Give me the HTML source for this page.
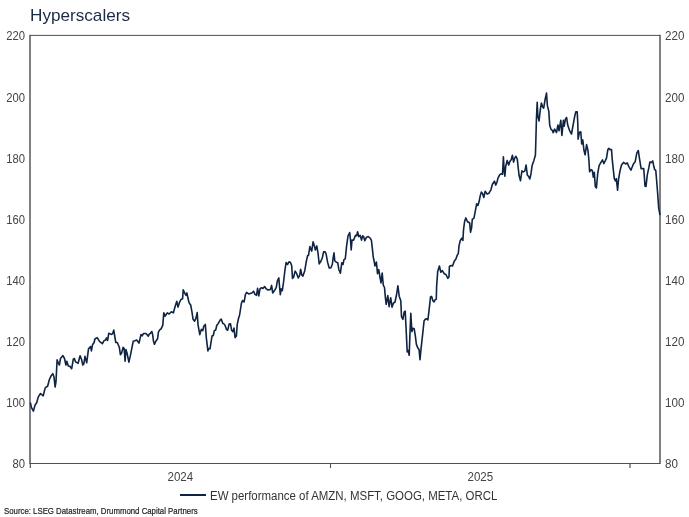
<!DOCTYPE html>
<html><head><meta charset="utf-8"><title>Hyperscalers</title>
<style>
html,body{margin:0;padding:0;background:#fff;}
body{width:689px;height:517px;position:relative;overflow:hidden;font-family:"Liberation Sans",sans-serif;}
#wrap{position:absolute;left:0;top:0;width:689px;height:517px;will-change:transform;}
.t{position:absolute;white-space:nowrap;line-height:1;}
#title{left:30px;top:6.7px;font-size:17.15px;color:#1b2a45;}
.yl{font-size:12.3px;color:#444;width:22px;text-align:right;left:3.3px;transform-origin:100% 0;transform:scaleX(0.915);}
.yr{font-size:12.3px;color:#444;left:664.7px;transform-origin:0 0;transform:scaleX(0.945);}
.xl{font-size:12px;color:#444;transform-origin:50% 0;transform:scaleX(0.96);}
#leg{left:210.4px;top:489.6px;font-size:12px;color:#333;transform-origin:0 0;transform:scaleX(0.954);}
#src{left:3.6px;top:506.7px;font-size:9px;color:#222;transform-origin:0 0;transform:scaleX(0.868);-webkit-text-stroke:0.2px #222;}
svg{position:absolute;left:0;top:0;}
</style></head><body><div id="wrap">
<div class="t" id="title">Hyperscalers</div>
<svg width="689" height="517" viewBox="0 0 689 517">
<g stroke="#505050" fill="none">
<line x1="30" y1="34.8" x2="30" y2="464.1" stroke-width="1.3" stroke="#3c3c3c"/>
<line x1="660" y1="34.8" x2="660" y2="464.1" stroke-width="1.3" stroke="#3c3c3c"/>
<line x1="30" y1="35.4" x2="660" y2="35.4" stroke-width="1"/>
<line x1="30" y1="463.5" x2="660" y2="463.5" stroke-width="1.1"/>
<line x1="30.3" y1="463" x2="30.3" y2="468" stroke-width="1.2"/>
<line x1="330.5" y1="463" x2="330.5" y2="468" stroke-width="1.1"/>
<line x1="630" y1="463" x2="630" y2="468" stroke-width="1.2"/>
</g>
<path d="M30.4,402.6 L31.4,407.3 L33.4,411.1 L35.0,405.2 L36.8,402.5 L38.2,397.1 L40.5,393.5 L43.2,395.8 L45.3,387.6 L47.6,386.3 L49.4,379.5 L51.0,376.1 L52.8,373.7 L54.0,376.8 L55.1,387.0 L56.0,381.5 L57.1,359.9 L58.1,362.6 L59.4,365.0 L60.5,358.5 L62.9,355.6 L64.5,358.5 L65.9,365.0 L66.8,361.2 L68.3,366.0 L70.0,366.4 L71.7,368.7 L73.3,359.2 L74.3,358.5 L75.6,361.9 L78.1,363.3 L80.1,355.8 L81.5,359.2 L82.8,365.0 L83.8,364.0 L85.0,356.4 L86.7,362.8 L88.5,348.9 L90.6,346.6 L91.4,350.9 L92.5,344.8 L94.1,342.5 L94.9,339.0 L97.2,337.6 L99.5,341.3 L102.4,343.7 L104.2,340.4 L105.7,340.0 L106.5,337.9 L107.6,340.4 L108.8,333.2 L111.1,334.4 L112.6,333.8 L113.8,330.0 L114.6,335.5 L115.8,342.5 L117.3,342.5 L119.3,347.2 L120.4,354.7 L121.6,353.0 L123.1,347.4 L124.1,348.3 L125.1,361.1 L125.9,349.5 L127.0,353.0 L128.9,362.2 L130.3,355.9 L133.2,341.3 L134.9,340.8 L136.7,340.0 L139.0,343.1 L141.0,334.6 L142.1,335.8 L143.6,333.5 L146.0,333.5 L148.3,336.1 L149.1,334.4 L150.6,333.2 L151.8,331.5 L152.6,334.4 L153.5,341.3 L154.4,344.3 L155.8,341.3 L157.6,338.8 L158.4,332.1 L159.9,329.7 L161.1,328.8 L162.8,325.1 L163.8,312.9 L165.2,316.1 L167.2,312.9 L169.1,314.0 L171.4,311.7 L173.4,312.9 L175.1,306.5 L176.8,301.3 L178.0,307.1 L179.5,302.4 L180.9,299.5 L182.6,298.7 L183.2,289.9 L185.0,293.7 L186.1,295.4 L186.9,292.9 L187.9,297.8 L189.0,302.6 L190.8,305.3 L191.9,311.7 L193.1,319.3 L194.6,321.2 L195.8,318.7 L197.2,312.6 L198.0,324.6 L199.8,334.6 L201.3,329.4 L202.8,330.7 L203.7,326.3 L205.3,324.4 L206.3,337.6 L207.9,350.9 L208.8,348.5 L210.0,348.8 L212.0,336.1 L213.3,335.5 L214.3,330.7 L215.7,330.0 L216.8,325.3 L218.1,323.7 L220.3,319.8 L221.3,319.2 L222.7,323.3 L224.2,324.1 L225.3,325.9 L226.5,329.6 L227.7,330.2 L229.1,324.1 L230.5,323.9 L231.6,330.2 L232.9,331.7 L234.0,328.1 L235.1,337.6 L236.4,335.9 L237.2,324.6 L238.5,318.5 L239.6,315.0 L241.4,303.4 L242.5,300.5 L244.1,302.0 L245.4,294.7 L246.6,292.4 L248.7,293.9 L251.8,293.0 L253.6,291.2 L255.0,294.4 L256.5,295.3 L257.6,288.3 L258.8,295.9 L260.0,288.9 L261.5,287.7 L262.9,288.5 L264.6,286.6 L266.3,288.9 L268.1,290.1 L270.4,289.5 L271.6,285.4 L272.7,293.0 L274.5,290.6 L276.2,287.7 L277.4,280.8 L278.8,277.9 L279.7,288.3 L280.3,294.7 L281.2,288.9 L282.3,290.6 L283.5,282.5 L284.9,270.3 L286.1,262.5 L287.5,264.5 L289.0,261.8 L290.5,262.5 L291.7,265.7 L292.5,278.4 L293.6,277.3 L295.1,271.1 L296.5,273.2 L298.3,277.9 L299.8,275.0 L300.6,269.2 L301.8,275.0 L302.9,276.1 L304.7,270.9 L306.4,261.0 L307.6,255.6 L308.5,255.4 L309.9,246.5 L311.7,251.1 L313.1,241.8 L314.5,246.5 L315.4,250.0 L316.8,245.9 L318.0,252.9 L319.2,263.9 L321.0,261.0 L322.4,257.5 L323.6,251.9 L325.0,251.7 L326.1,254.0 L327.6,262.2 L329.2,268.0 L330.8,268.0 L332.3,264.5 L333.2,257.5 L334.0,252.9 L334.8,261.0 L336.3,262.2 L337.7,262.7 L338.9,269.7 L340.4,273.2 L341.8,262.7 L343.0,264.5 L343.9,259.8 L345.3,258.7 L346.6,245.9 L348.0,236.0 L349.7,232.5 L350.5,240.1 L351.2,250.0 L352.0,240.1 L353.5,240.3 L355.5,235.4 L356.7,235.7 L357.6,231.7 L358.8,236.6 L360.2,235.4 L361.5,240.1 L362.7,235.7 L363.6,236.6 L364.8,240.7 L366.5,237.2 L368.3,236.6 L370.0,238.0 L371.4,240.1 L372.3,248.2 L373.3,257.5 L374.1,260.8 L374.9,266.0 L376.4,262.0 L377.5,273.6 L378.7,269.5 L379.9,276.5 L381.0,282.9 L382.2,273.0 L383.3,285.2 L384.5,287.5 L385.3,296.8 L386.2,304.3 L387.8,295.6 L389.1,306.6 L390.7,297.7 L392.0,307.2 L393.4,303.2 L395.0,302.0 L396.5,295.0 L397.9,285.8 L399.2,296.2 L400.8,300.8 L401.5,316.7 L402.9,319.4 L404.2,311.9 L405.2,311.2 L406.1,328.8 L407.2,351.9 L408.1,350.5 L409.2,355.2 L409.9,335.6 L410.8,313.3 L411.9,331.6 L412.9,328.2 L414.2,328.8 L415.3,335.6 L416.4,344.4 L417.7,347.8 L419.1,349.8 L420.0,359.7 L421.0,349.2 L422.8,332.9 L424.1,320.7 L425.5,319.1 L426.8,318.7 L427.9,320.0 L429.1,309.9 L430.5,297.0 L431.6,296.4 L432.9,300.7 L434.0,302.0 L435.2,299.7 L436.3,299.1 L436.6,286.9 L437.7,271.4 L439.4,266.0 L440.8,272.2 L442.3,270.6 L444.3,273.7 L445.9,274.5 L447.9,278.4 L449.0,276.8 L449.4,266.5 L451.0,265.5 L452.5,266.0 L454.4,260.9 L455.9,259.0 L457.2,255.2 L458.3,253.6 L459.0,245.9 L460.3,240.5 L461.8,238.2 L462.9,240.5 L463.5,230.0 L464.6,221.5 L465.8,217.9 L467.4,221.5 L469.7,223.0 L470.5,232.3 L471.6,227.7 L472.3,219.2 L473.9,218.4 L475.4,210.6 L476.7,203.7 L477.9,205.5 L479.0,202.1 L480.2,195.9 L481.3,192.1 L482.5,193.6 L483.8,197.5 L485.2,191.3 L487.2,194.1 L489.0,193.2 L490.9,189.8 L492.4,184.3 L494.5,181.2 L495.7,185.1 L497.1,181.7 L497.9,178.4 L499.6,174.9 L501.4,173.7 L502.5,174.3 L503.4,156.9 L504.1,170.3 L504.9,176.1 L505.7,166.2 L507.2,160.4 L508.7,165.0 L510.1,161.0 L511.2,159.8 L512.4,155.2 L513.6,162.1 L514.7,158.1 L515.9,156.3 L517.3,159.2 L518.2,167.9 L519.1,175.5 L520.5,180.7 L521.9,170.8 L523.4,172.0 L524.9,170.8 L526.1,165.0 L527.3,174.9 L528.7,176.6 L529.8,179.0 L531.0,173.7 L532.1,165.6 L533.9,160.4 L535.4,155.2 L535.8,142.4 L536.4,119.8 L537.2,102.4 L537.9,116.3 L539.1,121.0 L540.2,110.5 L541.4,103.0 L542.5,106.5 L543.7,108.2 L545.1,99.5 L546.5,93.1 L547.4,105.9 L548.8,111.1 L549.7,125.0 L550.9,129.1 L552.3,130.3 L553.2,132.6 L554.6,129.1 L556.5,132.6 L557.9,125.0 L559.0,130.8 L560.8,120.4 L561.9,135.5 L563.4,120.4 L564.2,126.2 L565.4,119.2 L566.6,117.5 L567.7,125.0 L569.5,130.3 L571.5,134.0 L573.2,124.5 L574.7,116.3 L575.8,111.9 L577.2,111.9 L577.8,123.3 L578.1,139.2 L579.4,132.4 L580.8,131.8 L581.7,144.0 L582.8,139.9 L583.9,150.0 L585.1,154.8 L586.6,144.6 L588.0,150.7 L588.9,160.2 L589.6,171.7 L591.0,169.7 L592.3,170.4 L593.3,177.1 L594.3,172.4 L595.3,186.6 L596.4,188.0 L597.7,173.7 L599.1,165.6 L601.1,162.2 L602.5,159.9 L603.8,163.6 L605.2,160.9 L606.5,158.2 L607.9,149.4 L608.8,148.3 L609.9,149.6 L611.5,149.6 L612.3,160.2 L613.3,169.7 L614.3,178.7 L615.4,181.0 L616.3,178.7 L617.6,190.3 L618.5,179.5 L620.0,170.9 L621.6,164.8 L623.6,162.4 L625.6,164.0 L627.2,162.9 L628.7,166.3 L630.9,170.2 L633.4,164.0 L635.2,161.7 L636.8,153.2 L638.3,150.5 L639.5,158.6 L641.1,168.6 L643.7,168.6 L644.5,178.7 L645.0,186.1 L646.0,186.4 L647.3,174.8 L648.8,167.9 L649.9,162.0 L651.5,162.4 L652.7,160.9 L653.8,166.3 L654.6,169.4 L655.8,170.6 L656.6,180.2 L657.6,192.6 L658.7,208.1 L660.0,215.0" fill="none" stroke="#0f2342" stroke-width="1.6" stroke-linejoin="round" stroke-linecap="butt"/>
<line x1="180" y1="495" x2="206" y2="495" stroke="#0f2342" stroke-width="2"/>
</svg>
<div class="t yl" style="top:30.3px">220</div>
<div class="t yr" style="top:30.3px">220</div>
<div class="t yl" style="top:91.5px">200</div>
<div class="t yr" style="top:91.5px">200</div>
<div class="t yl" style="top:152.6px">180</div>
<div class="t yr" style="top:152.6px">180</div>
<div class="t yl" style="top:213.8px">160</div>
<div class="t yr" style="top:213.8px">160</div>
<div class="t yl" style="top:274.9px">140</div>
<div class="t yr" style="top:274.9px">140</div>
<div class="t yl" style="top:336.1px">120</div>
<div class="t yr" style="top:336.1px">120</div>
<div class="t yl" style="top:397.2px">100</div>
<div class="t yr" style="top:397.2px">100</div>
<div class="t yl" style="top:458.4px">80</div>
<div class="t yr" style="top:458.4px">80</div>
<div class="t xl" style="left:167.2px;top:471.2px">2024</div>
<div class="t xl" style="left:467.3px;top:471.2px">2025</div>
<div class="t" id="leg">EW performance of AMZN, MSFT, GOOG, META, ORCL</div>
<div class="t" id="src">Source: LSEG Datastream, Drummond Capital Partners</div>
</div></body></html>
